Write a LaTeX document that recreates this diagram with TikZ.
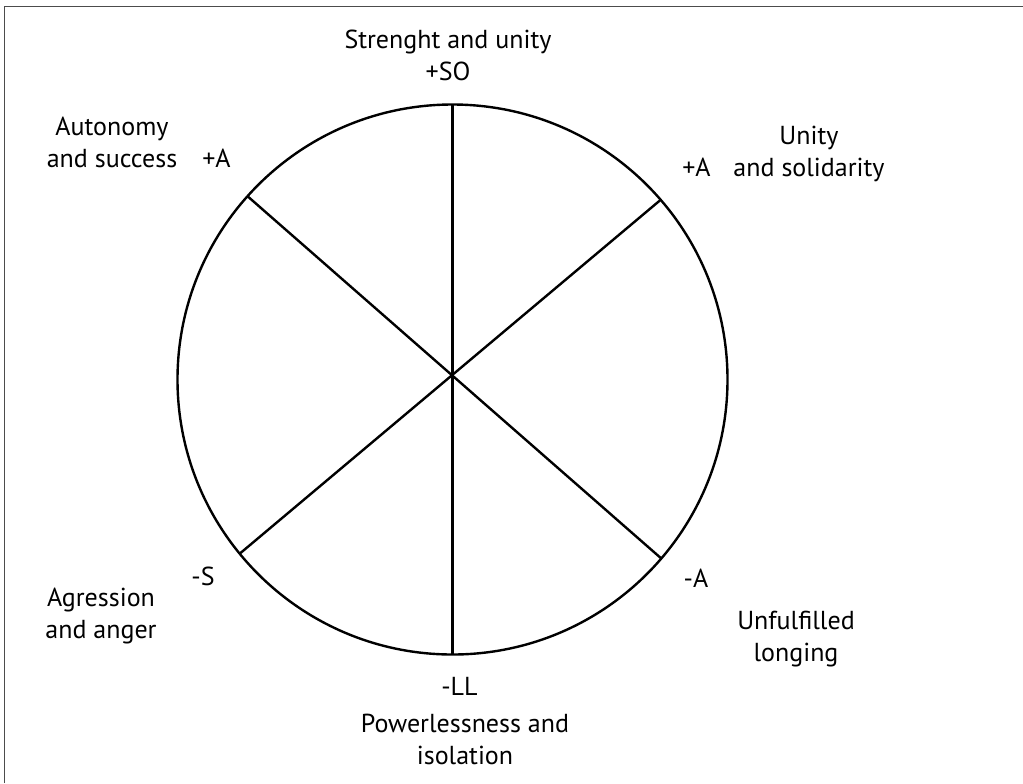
\documentclass[tikz,border=0pt]{standalone}
\usepackage{fontspec}
\usetikzlibrary{calc}
\setmainfont{PT Sans}
\begin{document}
\begin{tikzpicture}[x=0.75pt,y=-0.75pt,
  lbl/.style={font=\fontsize{19.5}{24}\selectfont, inner sep=0pt, align=center, anchor=base},
  wheel/.style={line width=1.8pt, black},
  frameline/.style={line width=1.3pt, color=black!70}]
\useasboundingbox (0,0) rectangle (1023,783);
% open frame: left and top edges only
\draw[frameline] (4.5,783) -- (4.5,6.5) -- (1023,6.5);
% the wheel (y grows downwards, so angles are measured clockwise)
\coordinate (o) at (452.5,379.5);
\draw[wheel] (o) circle [radius=275];
\coordinate (n)  at ($(o)+(-90:275)$);
\coordinate (s)  at ($(o)+(90:275)$);
\coordinate (nw) at ($(o)+(-138.2:275)$);
\coordinate (se) at ($(o)+(40.6:275)$);
\coordinate (ne) at ($(o)+(-40.8:275)$);
\coordinate (sw) at ($(o)+(140.7:275)$);
\draw[wheel] (n) -- (s);
\draw[wheel] (nw) -- (se);
\draw[wheel] (ne) -- (sw);
% labels (anchored at the baseline of their last line)
\node[lbl] (top) at (448,80) {Strenght and unity\\+SO};
\node[lbl] (ul) at (112,167) {Autonomy\\and success};
\node[lbl] (ulk) at (216.5,167) {+A};
\node[lbl] (ur) at (809,176) {Unity\\and solidarity};
\node[lbl] (urk) at (696.5,176) {+A};
\node[lbl] (ll) at (101,638) {Agression\\and anger};
\node[lbl] (llk) at (203,585) {-S};
\node[lbl] (lr) at (796,661) {Unfulfilled\\longing};
\node[lbl] (lrk) at (696,587) {-A};
\node[lbl] (bk) at (459.5,695) {-LL};
\node[lbl] (bot) at (465,764) {Powerlessness and\\isolation};
\end{tikzpicture}
\end{document}
